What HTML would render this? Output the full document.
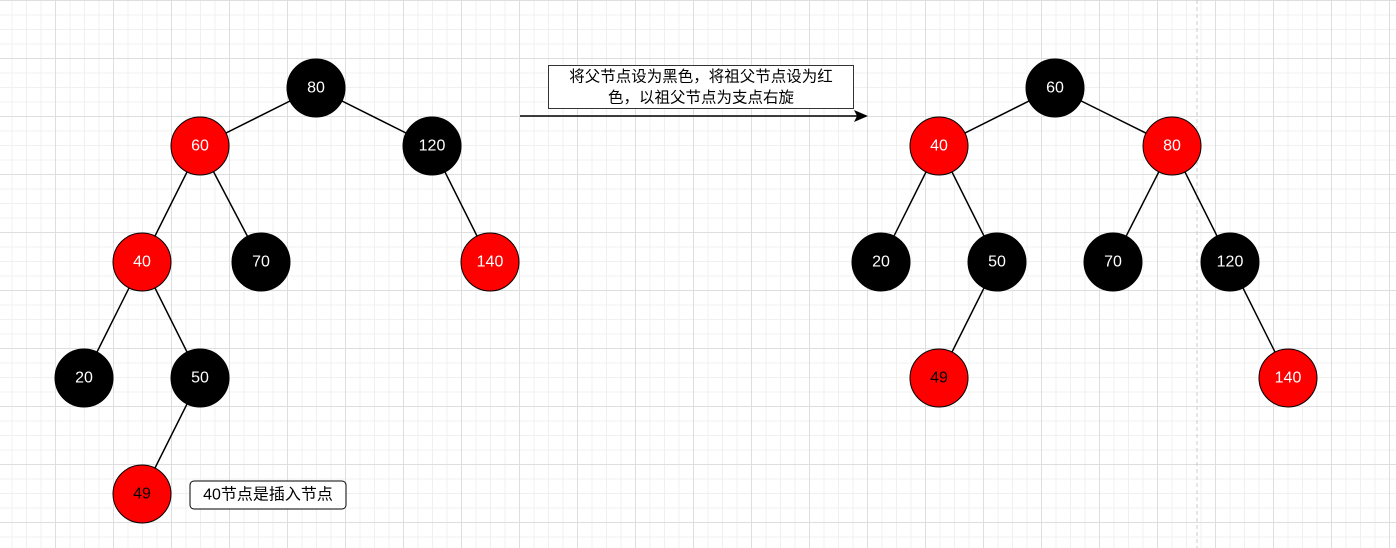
<!DOCTYPE html>
<html><head><meta charset="utf-8"><style>
body{margin:0;width:1396px;height:548px;overflow:hidden;background-color:#fff;
background-image:linear-gradient(#dedede 1px,transparent 1px),linear-gradient(90deg,#dedede 1px,transparent 1px),linear-gradient(#f0f0f0 1px,transparent 1px),linear-gradient(90deg,#f0f0f0 1px,transparent 1px);
background-size:58px 58px,58px 58px,14.5px 14.5px,14.5px 14.5px;
background-position:-3px 0,-3px 0,-3px 0,-3px 0;}
svg{position:absolute;left:0;top:0}
text{font-family:"Liberation Sans","Noto Sans CJK SC",sans-serif;font-size:16px;text-anchor:middle;dominant-baseline:central}
</style></head><body>
<svg width="1396" height="548">
<line x1="1197" y1="0" x2="1197" y2="548" stroke="#ccc" stroke-dasharray="4,3"/>
<g stroke="#000" stroke-width="1.5">
<line x1="316" y1="88" x2="200" y2="146"/><line x1="316" y1="88" x2="432" y2="146"/>
<line x1="200" y1="146" x2="142" y2="262"/><line x1="200" y1="146" x2="261" y2="262"/>
<line x1="432" y1="146" x2="490" y2="262"/>
<line x1="142" y1="262" x2="84" y2="378"/><line x1="142" y1="262" x2="200" y2="378"/>
<line x1="200" y1="378" x2="142" y2="494"/>
<line x1="1055" y1="88" x2="939" y2="146"/><line x1="1055" y1="88" x2="1172" y2="146"/>
<line x1="939" y1="146" x2="881" y2="262"/><line x1="939" y1="146" x2="997" y2="262"/>
<line x1="1172" y1="146" x2="1113" y2="262"/><line x1="1172" y1="146" x2="1230" y2="262"/>
<line x1="997" y1="262" x2="939" y2="378"/><line x1="1230" y1="262" x2="1288" y2="378"/>
<line x1="520" y1="116" x2="858" y2="116"/>
</g>
<polygon points="868,116 854,110 857,116 854,122" fill="#000"/>
<g stroke="#000" stroke-width="1">
<circle cx="316" cy="88" r="29"/><circle cx="200" cy="146" r="29" fill="#f00"/><circle cx="432" cy="146" r="29"/>
<circle cx="142" cy="262" r="29" fill="#f00"/><circle cx="261" cy="262" r="29"/><circle cx="490" cy="262" r="29" fill="#f00"/>
<circle cx="84" cy="378" r="29"/><circle cx="200" cy="378" r="29"/><circle cx="142" cy="494" r="29" fill="#f00"/>
<circle cx="1055" cy="88" r="29"/><circle cx="939" cy="146" r="29" fill="#f00"/><circle cx="1172" cy="146" r="29" fill="#f00"/>
<circle cx="881" cy="262" r="29"/><circle cx="997" cy="262" r="29"/><circle cx="1113" cy="262" r="29"/><circle cx="1230" cy="262" r="29"/>
<circle cx="939" cy="378" r="29" fill="#f00"/><circle cx="1288" cy="378" r="29" fill="#f00"/>
</g>
<g fill="#fff">
<text x="316" y="88">80</text><text x="200" y="146">60</text><text x="432" y="146">120</text>
<text x="142" y="262">40</text><text x="261" y="262">70</text><text x="490" y="262">140</text>
<text x="84" y="378">20</text><text x="200" y="378">50</text>
<text x="1055" y="88">60</text><text x="939" y="146">40</text><text x="1172" y="146">80</text>
<text x="881" y="262">20</text><text x="997" y="262">50</text><text x="1113" y="262">70</text><text x="1230" y="262">120</text>
<text x="1288" y="378">140</text>
</g>
<text x="142" y="494">49</text><text x="939" y="378">49</text>
<rect x="548.5" y="65.5" width="305" height="43" fill="#fff" stroke="#333"/>
<text x="701" y="77" style="font-size:15.5px">将父节点设为黑色，将祖父节点设为红</text>
<text x="701" y="98" style="font-size:15.5px">色，以祖父节点为支点右旋</text>
<rect x="190" y="481" width="156" height="28" rx="4" fill="#fff" stroke="#000"/>
<text x="268" y="495">40节点是插入节点</text>
</svg>
</body></html>
